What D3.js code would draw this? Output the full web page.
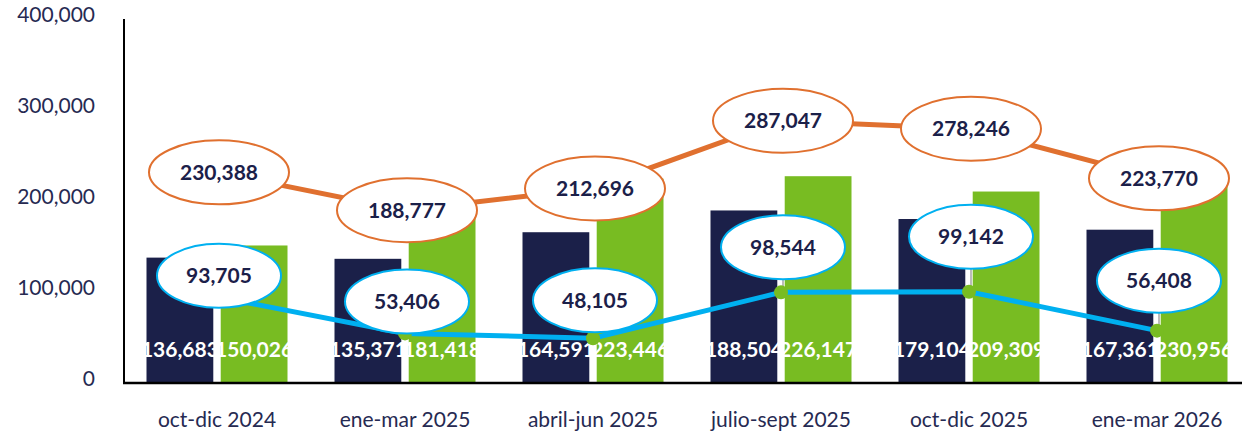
<!DOCTYPE html>
<html>
<head>
<meta charset="utf-8">
<script src="https://cdn.jsdelivr.net/npm/d3@7"></script>
<style>
  body { margin: 0; background: #fff; }
  svg { display: block; font-family: Lato, "Open Sans", sans-serif; }
</style>
</head>
<body>
<svg id="chart"></svg>
<script>
// data
const categories = ["oct-dic 2024", "ene-mar 2025", "abril-jun 2025", "julio-sept 2025", "oct-dic 2025", "ene-mar 2026"]
const navyValues = [136683, 135371, 164591, 188504, 179104, 167361]
const greenValues = [150026, 181418, 223446, 226147, 209309, 230956]
const orangeValues = [230388, 188777, 212696, 287047, 278246, 223770]
const blueValues = [93705, 53406, 48105, 98544, 99142, 56408]
const yTicks = [0, 100000, 200000, 300000, 400000]

// how far above its point each blue label sits (layout only)
const blueLabelShift = [21, 32, 38, 45, 55, 50]

const W = 1242, H = 435
const navy = "#1b2049", green = "#78bc22", orange = "#e0702f", blue = "#00b0f0"

const svg = d3.select("#chart")
    .attr("width", W)
    .attr("height", H)

const x0 = d3.scaleBand()
    .domain(categories)
    .range([123, 1251])
    .paddingInner(0.25)
    .paddingOuter(0.125)

const x1 = d3.scaleBand()
    .domain(["navy", "green"])
    .range([0, x0.bandwidth()])
    .paddingInner(0.1)

const y = d3.scaleLinear()
    .domain([0, 400000])
    .range([382, 18])

const fmt = d3.format(",")
const cx = d => x0(d) + x0.bandwidth() / 2

// y tick labels
svg.append("g")
    .selectAll("text")
    .data(yTicks)
    .join("text")
    .attr("x", 95)
    .attr("y", d => y(d) - 3)
    .attr("dy", "0.35em")
    .attr("text-anchor", "end")
    .attr("font-size", 21)
    .attr("fill", "#262a52")
    .text(d => fmt(d))

// bars + labels
function drawBars(values, key, color) {
    const g = svg.append("g")
    g.selectAll("rect")
        .data(values)
        .join("rect")
        .attr("x", (d, i) => x0(categories[i]) + x1(key))
        .attr("y", d => y(d))
        .attr("width", x1.bandwidth())
        .attr("height", d => y(0) - y(d))
        .attr("fill", color)
    g.selectAll("text")
        .data(values)
        .join("text")
        .attr("x", (d, i) => x0(categories[i]) + x1(key) + x1.bandwidth() / 2)
        .attr("y", 357)
        .attr("text-anchor", "middle")
        .attr("font-size", 21)
        .attr("font-weight", "bold")
        .attr("fill", "#fff")
        .text(d => fmt(d))
}
drawBars(navyValues, "navy", navy)
drawBars(greenValues, "green", green)

// axes lines
svg.append("line")
    .attr("x1", 124).attr("x2", 124)
    .attr("y1", 19).attr("y2", 383)
    .attr("stroke", "#000").attr("stroke-width", 2)
svg.append("line")
    .attr("x1", 123).attr("x2", W)
    .attr("y1", 383).attr("y2", 383)
    .attr("stroke", "#000").attr("stroke-width", 2.5)

// category labels
svg.append("g")
    .selectAll("text")
    .data(categories)
    .join("text")
    .attr("x", d => cx(d))
    .attr("y", 427)
    .attr("text-anchor", "middle")
    .attr("font-size", 21)
    .attr("fill", "#262a52")
    .text(d => d)

const line = d3.line()
    .x((d, i) => cx(categories[i]))
    .y(d => y(d))

// lines
svg.append("path")
    .datum(orangeValues)
    .attr("d", line)
    .attr("fill", "none")
    .attr("stroke", orange)
    .attr("stroke-width", 5)

svg.append("path")
    .datum(blueValues)
    .attr("d", line)
    .attr("fill", "none")
    .attr("stroke", blue)
    .attr("stroke-width", 5)

// leader lines for the blue labels
svg.append("g")
    .selectAll("line")
    .data(blueValues)
    .join("line")
    .attr("x1", (d, i) => cx(categories[i]) + 2)
    .attr("x2", (d, i) => cx(categories[i]) + 2)
    .attr("y1", (d, i) => y(d) - blueLabelShift[i] + 32)
    .attr("y2", d => y(d))
    .attr("stroke", "#a6a6a6")
    .attr("stroke-width", 1.5)

// markers on the blue line
svg.append("g")
    .selectAll("circle")
    .data(blueValues)
    .join("circle")
    .attr("cx", (d, i) => cx(categories[i]))
    .attr("cy", d => y(d))
    .attr("r", 7)
    .attr("fill", green)

// ellipse labels
function drawLabels(values, stroke, rx, shift) {
    const g = svg.append("g")
        .selectAll("g")
        .data(values)
        .join("g")
        .attr("transform", (d, i) => `translate(${cx(categories[i]) + 2},${y(d) - shift(i)})`)
    g.append("ellipse")
        .attr("rx", rx)
        .attr("ry", 32)
        .attr("fill", "#fff")
        .attr("stroke", stroke)
        .attr("stroke-width", 2)
    g.append("text")
        .attr("dy", "0.36em")
        .attr("text-anchor", "middle")
        .attr("font-size", 21)
        .attr("font-weight", "bold")
        .attr("fill", navy)
        .text(d => fmt(d))
}
drawLabels(orangeValues, orange, 70, i => 0)
drawLabels(blueValues, blue, 62, i => blueLabelShift[i])
</script>
</body>
</html>
